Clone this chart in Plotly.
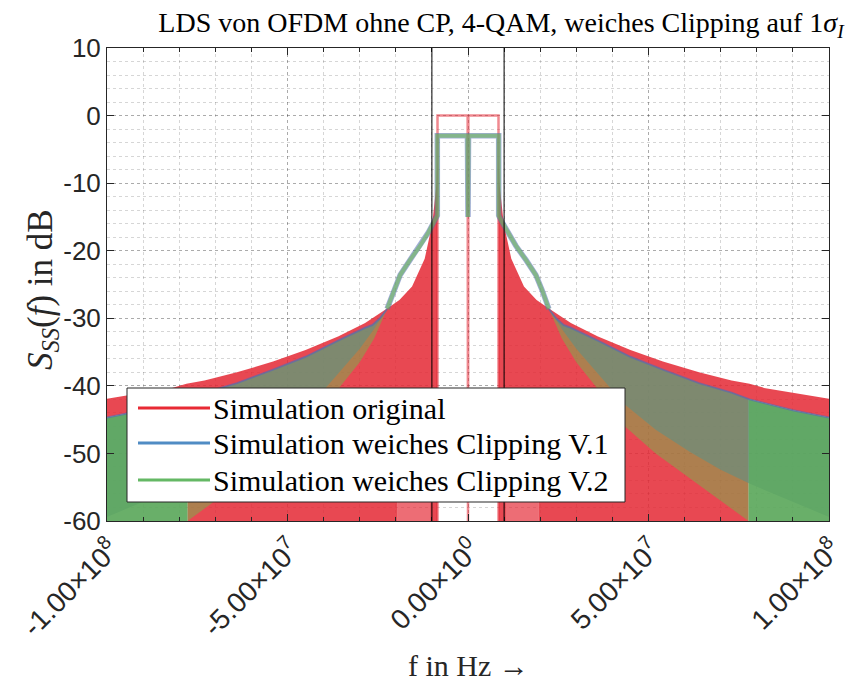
import numpy as np
import plotly.graph_objects as go

# ---------------------------------------------------------------------------
# Spectrum envelopes (positive-frequency half, the PSD is symmetric in f).
# Frequencies in MHz, levels in dB.
# ---------------------------------------------------------------------------

# original OFDM: in-band level and upper envelope of the out-of-band sidelobes
BAND_EDGE_ORIG = 8.45
INBAND_ORIG = 0.0
F_ORIG = [8.45, 8.7, 9.3, 9.7, 10.5, 12.0, 15.5, 19.0, 22.0, 28.5, 36.0, 45.0,
          54.0, 64.0, 73.0, 78.0, 82.0, 91.0, 100.0]
ORIG_UP = [-6.0, -10.0, -13.0, -15.0, -17.5, -21.2, -25.3, -27.3, -28.4, -30.7,
           -32.7, -34.7, -36.4, -38.0, -39.2, -39.7, -40.3, -41.1, -41.9]
# sparse (lighter) part of the sidelobe comb near the floor
F_ORIG_SPARSE = [10.5, 19.5]
ORIG_SPARSE_TOP = -56.5

# soft clipping (V.1 and V.2 almost coincide)
BAND_EDGE_CLIP = 8.5
INBAND_CLIP = -3.0
DC_DIP_CLIP = -15.0
F_CLIP = [8.5, 9.7, 11.0, 13.3, 16.1, 18.8, 20.5, 21.6, 22.4, 24.4, 26.5, 28.5,
          36.0, 45.0, 54.0, 64.0, 73.0, 78.0, 90.0, 100.0]
CLIP_UP = [-14.8, -16.0, -17.3, -19.3, -21.4, -23.6, -25.8, -27.4, -28.6, -30.0,
           -31.0, -31.4, -33.3, -35.7, -37.6, -39.6, -41.0, -42.0, -43.6, -44.7]
# lower envelope of the comb, V.1
F_V1_LO = [22.4, 26.0, 30.0, 36.0, 43.5, 52.0, 61.5, 70.0, 78.1, 100.0]
V1_LO = [-28.6, -31.6, -34.5, -38.2, -42.8, -46.5, -49.8, -52.4, -54.5, -59.4]
# lower envelope of the comb, V.2 (reaches the floor at F_FLOOR)
F_V2_LO = [22.4, 26.0, 30.0, 36.0, 43.5, 52.0, 61.5, 70.0, 77.7]
V2_LO = [-28.6, -33.0, -36.5, -40.5, -46.0, -50.0, -53.6, -57.0, -60.0]
F_FLOOR = 77.7
F_CROSS = 22.4

# axis settings
X_MIN, X_MAX = -1e8, 1e8
Y_MIN, Y_MAX = -60, 10
X_TICKS = [-1e8, -5e7, 0, 5e7, 1e8]
X_TICKTEXT = ["-1.00×10<sup>8</sup>", "-5.00×10<sup>7</sup>", "0.00×10<sup>0</sup>",
              "5.00×10<sup>7</sup>", "1.00×10<sup>8</sup>"]
Y_TICKS = [-60, -50, -40, -30, -20, -10, 0, 10]
Y_TICKTEXT = ["-60", "-50", "-40", "-30", "-20", "-10", "0", "10"]
MARKERS = [-1e7, 1e7]

NAMES = ["Simulation original", "Simulation weiches Clipping V.1",
         "Simulation weiches Clipping V.2"]

RED = "rgba(228,40,52,{a})"
BLUE = "rgba(82,105,183,{a})"
GREEN = "rgba(108,188,77,{a})"

MHZ = 1e6


def both_sides(xs, ys):
    """Polygon for the positive side and its mirror image, separated by a gap."""
    xs = np.asarray(xs, float)
    ys = np.asarray(ys, float)
    return (list(xs * MHZ) + [None] + list(-xs * MHZ),
            list(ys) + [None] + list(ys))


def clip_up_at(f):
    return float(np.interp(f, F_CLIP, CLIP_UP))


fig = go.Figure()

# --- original: sidelobe comb (dense part) --------------------------------
f_o = np.array(F_ORIG)
clip_outer = [f for f in F_CLIP if f > F_FLOOR]
px = (list(f_o)
      + clip_outer[::-1] + [F_FLOOR, F_FLOOR, F_ORIG_SPARSE[1], F_ORIG_SPARSE[1],
                            F_ORIG_SPARSE[0], F_ORIG_SPARSE[0], BAND_EDGE_ORIG])
py = (list(ORIG_UP)
      + [clip_up_at(f) for f in clip_outer[::-1]]
      + [clip_up_at(F_FLOOR), Y_MIN, Y_MIN, ORIG_SPARSE_TOP, ORIG_SPARSE_TOP, Y_MIN, Y_MIN])
x, y = both_sides(px, py)
fig.add_trace(go.Scatter(x=x, y=y, mode="lines", fill="toself", line=dict(width=0),
                         fillcolor=RED.format(a=0.85), hoverinfo="skip", showlegend=False))

# sparse part near the floor
sx = [F_ORIG_SPARSE[0], F_ORIG_SPARSE[1], F_ORIG_SPARSE[1], F_ORIG_SPARSE[0]]
sy = [ORIG_SPARSE_TOP, ORIG_SPARSE_TOP, Y_MIN, Y_MIN]
x, y = both_sides(sx, sy)
fig.add_trace(go.Scatter(x=x, y=y, mode="lines", fill="toself", line=dict(width=0),
                         fillcolor=RED.format(a=0.68), hoverinfo="skip", showlegend=False))

# in-band part of the original spectrum (flat top with a DC null)
ib_x = np.array([-BAND_EDGE_ORIG, -BAND_EDGE_ORIG, -0.1, 0.0, 0.1, BAND_EDGE_ORIG,
                 BAND_EDGE_ORIG]) * MHZ
ib_y = [Y_MIN, INBAND_ORIG, INBAND_ORIG, Y_MIN, INBAND_ORIG, INBAND_ORIG, Y_MIN]
fig.add_trace(go.Scatter(x=ib_x, y=ib_y, mode="lines",
                         line=dict(color=RED.format(a=0.55), width=2.5),
                         hoverinfo="skip", showlegend=False))

# --- clipped spectra: out-of-band comb -------------------------------------
f_c = np.array(F_CLIP)
outer_mask = f_c >= F_CROSS
fo = list(f_c[outer_mask])
uo = list(np.array(CLIP_UP)[outer_mask])

# V.1 comb
px = fo + F_V1_LO[::-1]
py = uo + V1_LO[::-1]
x, y = both_sides(px, py)
fig.add_trace(go.Scatter(x=x, y=y, mode="lines", fill="toself", line=dict(width=0),
                         fillcolor=BLUE.format(a=0.6), hoverinfo="skip", showlegend=False))

# V.2 comb up to the point where it reaches the floor
inner = [f for f in fo if f < F_FLOOR]
px = inner + [F_FLOOR] + F_V2_LO[::-1]
py = [clip_up_at(f) for f in inner] + [clip_up_at(F_FLOOR)] + V2_LO[::-1]
x, y = both_sides(px, py)
fig.add_trace(go.Scatter(x=x, y=y, mode="lines", fill="toself", line=dict(width=0),
                         fillcolor=GREEN.format(a=0.48), hoverinfo="skip", showlegend=False))

# V.2 comb beyond that point (fully filled down to the floor)
px = [F_FLOOR] + clip_outer + [clip_outer[-1], F_FLOOR]
py = [clip_up_at(F_FLOOR)] + [clip_up_at(f) for f in clip_outer] + [Y_MIN, Y_MIN]
x, y = both_sides(px, py)
fig.add_trace(go.Scatter(x=x, y=y, mode="lines", fill="toself", line=dict(width=0),
                         fillcolor="rgba(92,168,92,0.92)", hoverinfo="skip", showlegend=False))

# --- clipped spectra: in-band level and skirt ------------------------------
inner_mask = f_c <= F_CROSS
fi = f_c[inner_mask]
ui = np.array(CLIP_UP)[inner_mask]
core_x = (list(-fi[::-1] * MHZ) + [-BAND_EDGE_CLIP * MHZ, -0.15 * MHZ, 0.0, 0.15 * MHZ,
                                   BAND_EDGE_CLIP * MHZ] + list(fi * MHZ))
core_y = (list(ui[::-1]) + [INBAND_CLIP, INBAND_CLIP, DC_DIP_CLIP, INBAND_CLIP,
                            INBAND_CLIP] + list(ui))
fig.add_trace(go.Scatter(x=core_x, y=core_y, mode="lines",
                         line=dict(color=BLUE.format(a=0.55), width=5.5),
                         hoverinfo="skip", showlegend=False))
fig.add_trace(go.Scatter(x=core_x, y=core_y, mode="lines",
                         line=dict(color=GREEN.format(a=0.55), width=4),
                         hoverinfo="skip", showlegend=False))

# upper edge of the clipped comb outside the crossing
x, y = both_sides(fo, uo)
fig.add_trace(go.Scatter(x=x, y=y, mode="lines",
                         line=dict(color=BLUE.format(a=0.6), width=2),
                         hoverinfo="skip", showlegend=False))

# ---------------------------------------------------------------------------
# Layout
# ---------------------------------------------------------------------------
AX = "#262626"
SANS = "Liberation Sans, Arial, sans-serif"
SERIF = "Liberation Serif, Times New Roman, serif"

L, R, T, B = 107, 23, 48, 168
W, H = 852, 689
pw, ph = W - L - R, H - T - B


def px2paper_x(p):
    return (p - L) / pw


def px2paper_y(p):
    return (H - B - p) / ph


shapes = []
# band markers
for m in MARKERS:
    shapes.append(dict(type="line", xref="x", yref="paper", x0=m, x1=m, y0=0, y1=1,
                       line=dict(color="black", width=1), layer="above"))

# legend box
lx0, lx1, ly0, ly1 = 127, 625, 388, 502
shapes.append(dict(type="rect", xref="paper", yref="paper",
                   x0=px2paper_x(lx0), x1=px2paper_x(lx1),
                   y0=px2paper_y(ly1), y1=px2paper_y(ly0),
                   fillcolor="white", line=dict(color="#262626", width=1), layer="above"))
legend_colors = ["rgb(232,42,52)", "rgb(80,140,196)", "rgb(100,184,100)"]
legend_rows = [408, 443, 480]
annotations = []
for name, col, row in zip(NAMES, legend_colors, legend_rows):
    shapes.append(dict(type="line", xref="paper", yref="paper",
                       x0=px2paper_x(138), x1=px2paper_x(210),
                       y0=px2paper_y(row), y1=px2paper_y(row),
                       line=dict(color=col, width=3), layer="above"))
    annotations.append(dict(text=name, xref="paper", yref="paper",
                            x=px2paper_x(211), y=px2paper_y(row), xanchor="left",
                            yanchor="middle", showarrow=False,
                            font=dict(family=SERIF, size=30, color="black")))

# axis titles
annotations.append(dict(text="f in Hz →", xref="paper", yref="paper",
                        x=0.5, y=px2paper_y(665), xanchor="center", yanchor="middle",
                        showarrow=False, font=dict(family=SERIF, size=30, color=AX)))
annotations.append(dict(text="<i>S</i><sub><i>SS</i></sub>(<i>f</i>) in dB", xref="paper",
                        yref="paper", x=px2paper_x(42), y=px2paper_y(290),
                        xanchor="center", yanchor="middle", textangle=-90,
                        showarrow=False, font=dict(family=SERIF, size=35, color=AX)))

fig.update_layout(
    width=W, height=H,
    margin=dict(l=L, r=R, t=T, b=B, autoexpand=False),
    paper_bgcolor="white", plot_bgcolor="white",
    showlegend=False,
    title=dict(text="LDS von OFDM ohne CP, 4-QAM, weiches Clipping auf 1<i>σ</i><sub><i>I</i></sub>",
               xref="container", yref="container", x=501 / W, y=1 - 22 / H,
               xanchor="center", yanchor="middle",
               font=dict(family=SERIF, size=28, color="black")),
    shapes=shapes,
    annotations=annotations,
)

grid_major = "rgba(0,0,0,0.2)"
grid_minor = "rgba(0,0,0,0.16)"
fig.update_xaxes(
    range=[X_MIN, X_MAX], tickmode="array", tickvals=X_TICKS, ticktext=X_TICKTEXT,
    tickangle=-45, tickfont=dict(family=SANS, size=28, color=AX),
    ticklabelshift=4, ticklabelstandoff=0, ticklabeloverflow="allow",
    automargin=False,
    showline=True, linecolor=AX, linewidth=1, mirror="allticks",
    ticks="inside", ticklen=7, tickcolor=AX,
    showgrid=True, gridcolor=grid_major, griddash="dot", gridwidth=1,
    zeroline=False,
    minor=dict(dtick=1e7, tick0=0, ticks="inside", ticklen=4, tickcolor=AX,
               showgrid=True, gridcolor=grid_minor, griddash="dot", gridwidth=1),
)
fig.update_yaxes(
    range=[Y_MIN, Y_MAX], tickmode="array", tickvals=Y_TICKS, ticktext=Y_TICKTEXT,
    tickfont=dict(family=SANS, size=26, color=AX),
    automargin=False,
    showline=True, linecolor=AX, linewidth=1, mirror="allticks",
    ticks="inside", ticklen=7, tickcolor=AX,
    showgrid=True, gridcolor=grid_major, griddash="dot", gridwidth=1,
    zeroline=False,
    minor=dict(dtick=2, tick0=0, ticks="", showgrid=True, gridcolor=grid_minor,
               griddash="dot", gridwidth=1),
)

fig.write_html("out.html")
